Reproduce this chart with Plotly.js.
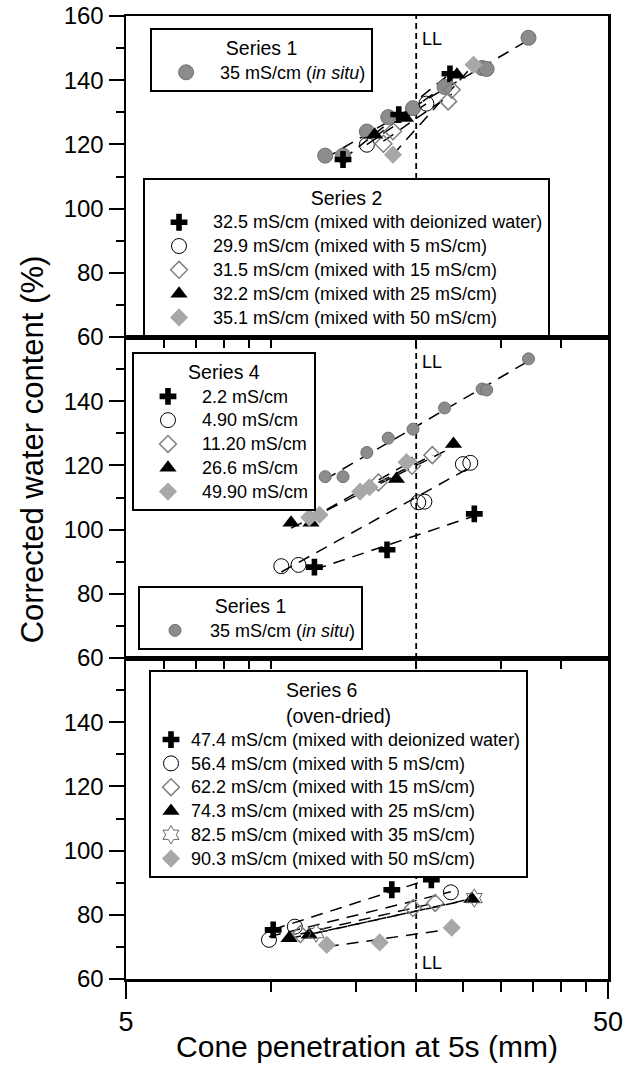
<!DOCTYPE html>
<html>
<head>
<meta charset="utf-8">
<script src="https://cdn.plot.ly/plotly-3.0.1.min.js"></script>
<style>html,body{margin:0;padding:0;background:#fff;}</style>
</head>
<body>
<div id="chart" style="width:636px;height:1066px;"></div>
<script>
// ---------- data ----------
const LL = 20;
// Series 1 (in situ, 35 mS/cm)
const s1X = [12.95, 14.1, 15.8, 17.5, 19.7, 22.9, 27.4, 28.0, 34.2];
const s1Y = [116.5, 116.5, 124.0, 128.5, 131.3, 137.9, 143.8, 143.5, 153.2];
// Series 2
const s2Labels = ['32.5 mS/cm (mixed with deionized water)', '29.9 mS/cm (mixed with 5 mS/cm)',
  '31.5 mS/cm (mixed with 15 mS/cm)', '32.2 mS/cm (mixed with 25 mS/cm)', '35.1 mS/cm (mixed with 50 mS/cm)'];
const s2PlusX = [14.1, 18.4, 23.5],            s2PlusY = [115.3, 129.3, 142.0];
const s2CircX = [15.8, 21.0],                  s2CircY = [119.9, 132.7];
const s2ODiaX = [17.1, 17.9, 23.3, 23.7],      s2ODiaY = [120.2, 124.1, 133.4, 137.0];
const s2TriX  = [16.4, 19.0, 24.3],            s2TriY  = [123.0, 128.2, 141.7];
const s2GDiaX = [17.9, 26.3],                  s2GDiaY = [116.8, 144.8];
// Series 4
const s4Labels = ['2.2 mS/cm', '4.90 mS/cm', '11.20 mS/cm', '26.6 mS/cm', '49.90 mS/cm'];
const s4PlusX = [12.3, 17.4, 26.4],                     s4PlusY = [88.3, 93.7, 104.9];
const s4CircX = [10.5, 11.4, 20.2, 20.8, 25.0, 25.9],   s4CircY = [88.6, 89.0, 108.5, 108.7, 120.4, 120.8];
const s4ODiaX = [16.7, 19.6, 21.6],                     s4ODiaY = [114.7, 119.9, 123.2];
const s4TriX  = [11.0, 12.1, 18.2, 23.9],               s4TriY  = [102.1, 102.1, 115.8, 126.7];
const s4GDiaX = [12.0, 12.6, 15.3, 16.0, 19.1],         s4GDiaY = [103.8, 104.6, 111.8, 113.2, 121.0];
// Series 6 (oven-dried)
const s6Labels = ['47.4 mS/cm (mixed with deionized water)', '56.4 mS/cm (mixed with 5 mS/cm)',
  '62.2 mS/cm (mixed with 15 mS/cm)', '74.3 mS/cm (mixed with 25 mS/cm)',
  '82.5 mS/cm (mixed with 35 mS/cm)', '90.3 mS/cm (mixed with 50 mS/cm)'];
const s6PlusX = [10.1, 17.8, 21.5],   s6PlusY = [75.3, 87.8, 90.9];
const s6CircX = [9.9, 11.2, 23.6],    s6CircY = [72.2, 76.3, 87.0];
const s6ODiaX = [11.5, 19.7, 21.9],   s6ODiaY = [74.0, 82.1, 83.7];
const s6TriX  = [10.9, 12.0, 26.1],   s6TriY  = [72.7, 73.8, 84.9];
const s6StarX = [12.4, 26.4],         s6StarY = [74.3, 85.2];
const s6GDiaX = [13.05, 16.8, 23.7],  s6GDiaY = [70.6, 71.4, 76.0];

const yTicksTop = [60, 80, 100, 120, 140, 160];
const yTicks = [60, 80, 100, 120, 140];
const yMinor = [70, 90, 110, 130, 150];
const xTicksBottom = [5, 50];
const xMinorBottom = [10, 15, 20, 25, 30, 35, 40, 45];
const xTicksInner = [6, 7, 8, 9, 10, 20, 30, 40];

// ---------- styles ----------
const FONT = 'Arial, "Liberation Sans", sans-serif';
const st = {
  gcircTop: {symbol: 'circle', size: 15, color: '#8c8c8c', line: {color: '#707070', width: 1}},
  gcircMid: {symbol: 'circle', size: 12, color: '#8c8c8c', line: {color: '#707070', width: 1}},
  plus: {symbol: 'cross', size: 14, color: '#000'},
  ocirc: {symbol: 'circle-open', size: 15, color: '#000', line: {width: 1}},
  odia: {symbol: 'diamond-open', size: 13, color: '#808080', line: {width: 1.5}},
  tri: {symbol: 'triangle-up', size: 15, color: '#000'},
  gdia: {symbol: 'diamond', size: 14, color: '#a8a8a8'},
  star: {symbol: 'hexagram-open', size: 14, color: '#666', line: {width: 1}}
};

function fitLine(xs, ys, xa, ya) {
  const lx = xs.map(v => Math.log(v));
  const n = xs.length;
  const mx = lx.reduce((a, b) => a + b, 0) / n;
  const my = ys.reduce((a, b) => a + b, 0) / n;
  let sxy = 0, sxx = 0;
  for (let i = 0; i < n; i++) { sxy += (lx[i] - mx) * (ys[i] - my); sxx += (lx[i] - mx) ** 2; }
  const b = sxx ? sxy / sxx : 0, a = my - b * mx;
  const x0 = Math.min(...xs), x1 = Math.max(...xs);
  return {x: [x0, x1], y: [a + b * Math.log(x0), a + b * Math.log(x1)], xaxis: xa, yaxis: ya,
    mode: 'lines', line: {color: '#000', width: 1.5, dash: '12px,8px'}, showlegend: false, hoverinfo: 'skip'};
}
function pts(xs, ys, name, m, xa, ya, leg) {
  return {x: xs, y: ys, name: '<span style="font-size:18px">' + name + '</span>', mode: 'markers',
    marker: m, xaxis: xa, yaxis: ya, legend: leg, type: 'scatter'};
}

const groups = [
  // top panel
  [s1X, s1Y, '35 mS/cm (<i>in situ</i>)', st.gcircTop, 'x3', 'y3', 'legend'],
  [s2PlusX, s2PlusY, s2Labels[0], st.plus, 'x3', 'y3', 'legend2'],
  [s2CircX, s2CircY, s2Labels[1], st.ocirc, 'x3', 'y3', 'legend2'],
  [s2ODiaX, s2ODiaY, s2Labels[2], st.odia, 'x3', 'y3', 'legend2'],
  [s2TriX, s2TriY, s2Labels[3], st.tri, 'x3', 'y3', 'legend2'],
  [s2GDiaX, s2GDiaY, s2Labels[4], st.gdia, 'x3', 'y3', 'legend2'],
  // middle panel
  [s4PlusX, s4PlusY, s4Labels[0], st.plus, 'x2', 'y2', 'legend3'],
  [s4CircX, s4CircY, s4Labels[1], st.ocirc, 'x2', 'y2', 'legend3'],
  [s4ODiaX, s4ODiaY, s4Labels[2], st.odia, 'x2', 'y2', 'legend3'],
  [s4TriX, s4TriY, s4Labels[3], st.tri, 'x2', 'y2', 'legend3'],
  [s4GDiaX, s4GDiaY, s4Labels[4], st.gdia, 'x2', 'y2', 'legend3'],
  [s1X, s1Y, '35 mS/cm (<i>in situ</i>)', st.gcircMid, 'x2', 'y2', 'legend4'],
  // bottom panel
  [s6PlusX, s6PlusY, s6Labels[0], st.plus, 'x', 'y', 'legend5'],
  [s6CircX, s6CircY, s6Labels[1], st.ocirc, 'x', 'y', 'legend5'],
  [s6ODiaX, s6ODiaY, s6Labels[2], st.odia, 'x', 'y', 'legend5'],
  [s6TriX, s6TriY, s6Labels[3], st.tri, 'x', 'y', 'legend5'],
  [s6StarX, s6StarY, s6Labels[4], st.star, 'x', 'y', 'legend5'],
  [s6GDiaX, s6GDiaY, s6Labels[5], st.gdia, 'x', 'y', 'legend5']
];

const traces = [];
groups.forEach(g => traces.push(fitLine(g[0], g[1], g[4], g[5])));
groups.forEach(g => traces.push(pts(g[0], g[1], g[2], g[3], g[4], g[5], g[6])));

// ---------- layout ----------
const xr = [Math.log10(5), Math.log10(50)];
function yax(domain, tv) {
  return {domain: domain, range: [60, 160], tickvals: tv, ticks: 'outside', ticklen: 15, tickwidth: 2,
    tickcolor: '#000', showline: true, linewidth: 2.5, linecolor: '#000', mirror: true, showgrid: false,
    zeroline: false, tickfont: {family: FONT, size: 24, color: '#000'},
    minor: {tickvals: yMinor, ticks: 'outside', ticklen: 8, tickwidth: 2, tickcolor: '#000', showgrid: false}};
}
function xInner(anchor) {
  return {type: 'log', range: xr, anchor: anchor, tickvals: xTicksInner, ticks: 'outside', ticklen: 8,
    tickwidth: 2, tickcolor: '#000', showticklabels: false, showline: true, linewidth: 2.5,
    linecolor: '#000', mirror: true, showgrid: false, zeroline: false};
}
function leg(x, y, title, iw) {
  return {x: x, y: y, xanchor: 'left', yanchor: 'top', bgcolor: '#fff', bordercolor: '#000', borderwidth: 2,
    font: {family: FONT, size: 16, color: '#000'}, itemwidth: iw, tracegroupgap: 0,
    title: {text: title, side: 'top center', font: {family: FONT, size: 19.5, color: '#000'}}};
}

const layout = {
  width: 636, height: 1066,
  margin: {l: 126, r: 28, t: 16, b: 87},
  paper_bgcolor: '#fff', plot_bgcolor: 'rgba(0,0,0,0)',
  font: {family: FONT, color: '#000'},
  xaxis: {type: 'log', range: xr, anchor: 'y', tickvals: xTicksBottom, ticktext: xTicksBottom.map(String),
    ticks: 'outside', ticklen: 17, tickwidth: 2, tickcolor: '#000', showline: true, linewidth: 2.5,
    linecolor: '#000', mirror: true, showgrid: false, zeroline: false,
    tickfont: {family: FONT, size: 27, color: '#000'},
    minor: {tickvals: xMinorBottom, ticks: 'outside', ticklen: 10, tickwidth: 2, tickcolor: '#000', showgrid: false},
    title: {text: 'Cone penetration at 5s (mm)', font: {family: FONT, size: 30, color: '#000'}, standoff: 0}},
  xaxis2: xInner('y2'),
  xaxis3: xInner('y3'),
  yaxis: yax([0, 1 / 3], yTicks),
  yaxis2: yax([1 / 3, 2 / 3], yTicks),
  yaxis3: yax([2 / 3, 1], yTicksTop),
  legend: leg(0.050, 0.9875, 'Series 1', 58),
  legend2: leg(0.0353, 0.8318, 'Series 2', 58),
  legend3: leg(0.0124, 0.651, 'Series 4', 58),
  legend4: leg(0.0249, 0.408, 'Series 1', 60),
  legend5: leg(0.0477, 0.3209, 'Series 6<br>(oven-dried)', 30),
  shapes: [{type: 'line', xref: 'x', yref: 'paper', x0: LL, x1: LL, y0: 0, y1: 1,
    line: {color: '#000', width: 1.8, dash: '6px,4px'}, layer: 'below'}],
  annotations: [0.9766, 0.6407, 0.0171].map(yy => ({xref: 'x', yref: 'paper', x: Math.log10(LL), y: yy,
    xanchor: 'left', yanchor: 'middle', xshift: 4, text: 'LL', showarrow: false,
    font: {family: FONT, size: 18, color: '#000'}})).concat([
    {xref: 'paper', yref: 'paper', x: -0.195, y: 0.55, xanchor: 'center', yanchor: 'middle',
     textangle: -90, showarrow: false, text: 'Corrected water content (%)',
     font: {family: FONT, size: 31, color: '#000'}}])
};

Plotly.newPlot('chart', traces, layout, {displayModeBar: false, staticPlot: true});
</script>
</body>
</html>
